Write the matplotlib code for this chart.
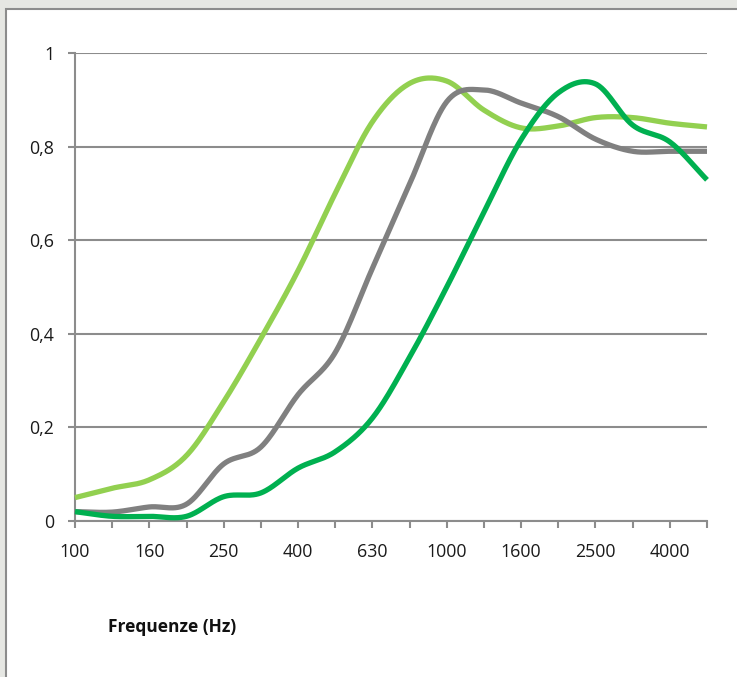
import numpy as np
import matplotlib
matplotlib.use("Agg")
import matplotlib.pyplot as plt
from matplotlib.patches import Rectangle

# ---- data ----
categories = ["100", "125", "160", "200", "250", "315", "400", "500", "630",
              "800", "1000", "1250", "1600", "2000", "2500", "3150", "4000", "5000"]
light_green = [0.05, 0.07, 0.088, 0.14, 0.255, 0.39, 0.535, 0.70, 0.853,
               0.935, 0.94, 0.878, 0.84, 0.844, 0.862, 0.862, 0.85, 0.842]
grey = [0.02, 0.019, 0.03, 0.036, 0.122, 0.158, 0.27, 0.36, 0.54,
        0.72, 0.896, 0.921, 0.893, 0.864, 0.816, 0.79, 0.79, 0.79]
dark_green = [0.02, 0.01, 0.01, 0.01, 0.052, 0.06, 0.113, 0.148, 0.22,
              0.35, 0.50, 0.66, 0.815, 0.915, 0.934, 0.846, 0.81, 0.729]
y_ticks = [0, 0.2, 0.4, 0.6, 0.8, 1.0]
y_tick_labels = ["0", "0,2", "0,4", "0,6", "0,8", "1"]

series = [(light_green, "#92D050"), (grey, "#808080"), (dark_green, "#00B050")]


def smooth(xs, ys, n=30):
    """Catmull-Rom rendering of the series through its points (like Excel smoothing)."""
    xs = np.asarray(xs, float)
    ys = np.asarray(ys, float)
    px = np.concatenate([[2 * xs[0] - xs[1]], xs, [2 * xs[-1] - xs[-2]]])
    py = np.concatenate([[2 * ys[0] - ys[1]], ys, [2 * ys[-1] - ys[-2]]])
    ox, oy = [], []
    for i in range(1, len(px) - 2):
        t = np.linspace(0, 1, n, endpoint=False)
        for arr, out in ((px, ox), (py, oy)):
            p0, p1, p2, p3 = arr[i - 1], arr[i], arr[i + 1], arr[i + 2]
            out.extend(0.5 * ((2 * p1) + (-p0 + p2) * t +
                              (2 * p0 - 5 * p1 + 4 * p2 - p3) * t ** 2 +
                              (-p0 + 3 * p1 - 3 * p2 + p3) * t ** 3))
    ox.append(xs[-1]); oy.append(ys[-1])
    return np.array(ox), np.array(oy)


W, H = 737, 677
fig = plt.figure(figsize=(W / 100, H / 100), dpi=100)
fig.patch.set_facecolor("#E6E7E3")

# white chart frame (cropped on the right and bottom)
frame = Rectangle((6 / W, -0.05), 1.1, (H - 9) / H + 0.05, transform=fig.transFigure,
                  facecolor="white", edgecolor="#8C8C8C", linewidth=1.5, zorder=-5)
fig.patches.append(frame)

ax = fig.add_axes([75 / W, (H - 521) / H, (707 - 75) / W, (521 - 53) / H])
ax.set_zorder(5)
ax.set_facecolor("none")

x = np.arange(len(categories))
for ys, col in series:
    sx, sy = smooth(x, ys)
    ax.plot(sx, sy, color=col, linewidth=3.8, solid_capstyle="butt", zorder=3, clip_on=False)

ax.set_xlim(0, len(categories) - 1)
ax.set_ylim(0, 1)
ax.set_xticks(x)
ax.set_xticklabels([c if i % 2 == 0 else "" for i, c in enumerate(categories)])
ax.set_yticks(y_ticks)
ax.set_yticklabels(y_tick_labels)

font = "Open Sans"
for lab in ax.get_xticklabels() + ax.get_yticklabels():
    lab.set_fontfamily(font)
    lab.set_fontsize(12.8)
    lab.set_color("#1A1A1A")

ax.grid(axis="y", color="#8C8C8C", linewidth=1.5, zorder=1)
ax.set_axisbelow(True)
for s in ["top", "right"]:
    ax.spines[s].set_visible(False)
for s in ["left", "bottom"]:
    ax.spines[s].set_color("#8C8C8C")
    ax.spines[s].set_linewidth(1.5)
ax.tick_params(axis="both", direction="out", length=5, width=1.5, color="#8C8C8C")
ax.tick_params(axis="x", pad=11)
ax.tick_params(axis="y", pad=10)

fig.text(108 / W, 1 - 627 / H, "Frequenze (Hz)", fontfamily=font, fontweight="bold",
         fontsize=12.5, ha="left", va="center", color="#111111")

fig.savefig("out.png", dpi=100, facecolor=fig.get_facecolor())
